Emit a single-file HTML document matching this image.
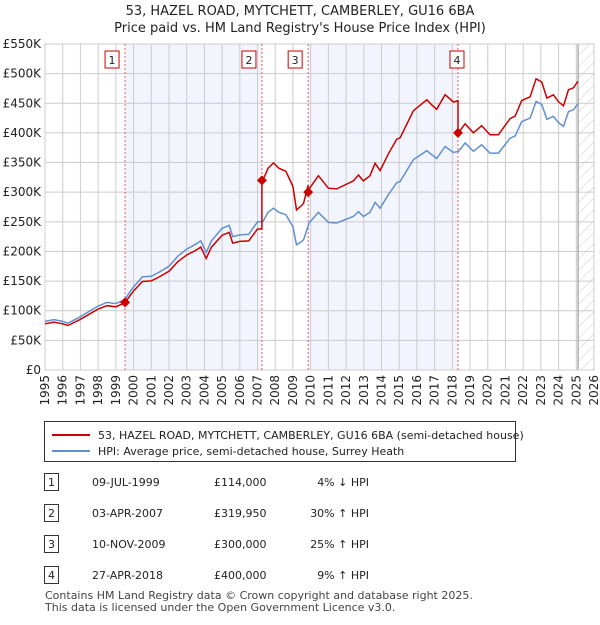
<!DOCTYPE html>
<html><head><meta charset="utf-8"><style>
body{margin:0;background:#fff;font-family:"Liberation Sans","DejaVu Sans",sans-serif;}
svg text{font-family:"DejaVu Sans","Liberation Sans",sans-serif;}
</style></head><body>
<svg id="c" width="600" height="620" xmlns="http://www.w3.org/2000/svg">
<defs><pattern id="hatch" width="8" height="8" patternUnits="userSpaceOnUse" patternTransform="rotate(45)"><line x1="0" y1="0" x2="0" y2="8" stroke="#ccc" stroke-width="1"/></pattern></defs>
<text x="300" y="15" text-anchor="middle" font-size="13" fill="#222">53, HAZEL ROAD, MYTCHETT, CAMBERLEY, GU16 6BA</text>
<text x="300" y="32" text-anchor="middle" font-size="13" fill="#222">Price paid vs. HM Land Registry's House Price Index (HPI)</text>
<g id="plot"></g>
<g>
<rect x="44.5" y="421.5" width="471" height="40" fill="#fff" stroke="#333"/>
<line x1="52" y1="435" x2="90" y2="435" stroke="#cc0000" stroke-width="2"/>
<text x="98" y="439" font-size="11" fill="#222">53, HAZEL ROAD, MYTCHETT, CAMBERLEY, GU16 6BA (semi-detached house)</text>
<line x1="52" y1="451" x2="90" y2="451" stroke="#6090d0" stroke-width="2"/>
<text x="98" y="455" font-size="11" fill="#222">HPI: Average price, semi-detached house, Surrey Heath</text>
</g>
<g id="table" font-size="11" fill="#222"></g>
<text x="45" y="599" font-size="11" fill="#444">Contains HM Land Registry data © Crown copyright and database right 2025.</text>
<text x="45" y="611" font-size="11" fill="#444">This data is licensed under the Open Government Licence v3.0.</text>
</svg>
<script>
const hpiYears=[1995,1995.5,1996,1996.3,1997,1998,1998.5,1999,1999.5,2000,2000.5,2001,2001.5,2002,2002.5,2003,2003.5,2003.8,2004.1,2004.4,2005,2005.4,2005.6,2006,2006.5,2007,2007.3,2007.6,2007.9,2008.2,2008.6,2009,2009.2,2009.5,2009.6,2009.91,2010.44,2011,2011.47,2012.41,2012.7,2012.98,2013.35,2013.64,2013.92,2014.39,2014.86,2015.05,2015.8,2016.56,2016.84,2017.12,2017.59,2018.06,2018.35,2018.72,2019.19,2019.66,2020.13,2020.6,2021.26,2021.55,2021.92,2022.39,2022.73,2023.05,2023.34,2023.71,2024,2024.28,2024.56,2024.84,2025.09];
const hpiValues=[82,85,82,79,90,108,114,112,119,140,157,158,166,175,192,204,212,218,198,218,239,244,225,228,229,250,250,266,273,266,262,242,211,217,220,248,266,249,248,259,267,259,266,283,273,296,316,318,355,370,363,357,377,367,369,383,369,380,366,366,391,395,419,425,453,448,423,428,417,411,436,439,449];
const saleYears=[1999.52,2007.25,2009.86,2018.32];
const salePrices=[114000,319950,300000,400000];
const saleDates=["09-JUL-1999","03-APR-2007","10-NOV-2009","27-APR-2018"];
const salePriceLabels=["£114,000","£319,950","£300,000","£400,000"];
const saleHpiLabels=["4% ↓ HPI","30% ↑ HPI","25% ↑ HPI","9% ↑ HPI"];
const yTicks=[0,50,100,150,200,250,300,350,400,450,500,550];
const yTickLabels=["£0","£50K","£100K","£150K","£200K","£250K","£300K","£350K","£400K","£450K","£500K","£550K"];
const xTicks=[1995,1996,1997,1998,1999,2000,2001,2002,2003,2004,2005,2006,2007,2008,2009,2010,2011,2012,2013,2014,2015,2016,2017,2018,2019,2020,2021,2022,2023,2024,2025,2026];

const L=45,R=594,T=44,B=370;
const X=y=>L+(y-1995)/31*(R-L);
const Y=v=>B-v/550*(B-T);
const NS="http://www.w3.org/2000/svg";
const g=document.getElementById('plot');
function mk(tag,attrs,parent){const e=document.createElementNS(NS,tag);for(const k in attrs)e.setAttribute(k,attrs[k]);(parent||g).appendChild(e);return e;}
function hpiAt(t){for(let i=0;i<hpiYears.length-1;i++){if(t>=hpiYears[i]&&t<=hpiYears[i+1]){const f=(t-hpiYears[i])/(hpiYears[i+1]-hpiYears[i]);return hpiValues[i]+f*(hpiValues[i+1]-hpiValues[i]);}}return hpiValues[hpiValues.length-1];}

let r=mk('rect',{x:X(saleYears[0]),y:T,width:X(saleYears[1])-X(saleYears[0]),height:B-T,fill:'#f2f5fd'});


r=mk('rect',{x:X(saleYears[2]),y:T,width:X(saleYears[3])-X(saleYears[2]),height:B-T,fill:'#f2f5fd'});


r=mk('rect',{x:X(2025.1),y:T,width:X(2026)-X(2025.1),height:B-T,fill:'url(#hatch)'});


yTicks.forEach((v,i)=>{mk('line',{x1:L,x2:R,y1:Y(v),y2:Y(v),stroke:'#ccc'});
 const t=mk('text',{x:L-4,y:Y(v)+4,'text-anchor':'end','font-size':12,fill:'#222'});t.textContent=yTickLabels[i];
 
 });
xTicks.forEach(y=>{mk('line',{x1:X(y),x2:X(y),y1:T,y2:B,stroke:'#ccc'});
 const t=mk('text',{x:0,y:0,'text-anchor':'end','font-size':12,fill:'#222',transform:`translate(${X(y)+4},${B+5}) rotate(-90)`});t.textContent=y;
 
 });
mk('line',{x1:X(2025.1),x2:X(2025.1),y1:T,y2:B,stroke:'#888'});
mk('rect',{x:L,y:T,width:R-L,height:B-T,fill:'none',stroke:'#ccc'});
saleYears.forEach((s,i)=>{mk('line',{x1:X(s),x2:X(s),y1:T,y2:B,stroke:'#e06060','stroke-dasharray':'2,2'});
 const bx=X(s)-20+(i==3?12:0);
 const b=mk('rect',{x:bx,y:51,width:14,height:17,fill:'#fff',stroke:'#cc0000'});
 
 
 const t=mk('text',{x:bx+7,y:64,'text-anchor':'middle','font-size':11,fill:'#222'});t.textContent=i+1;});
const hp=hpiYears.map((y,i)=>X(y).toFixed(1)+','+Y(hpiValues[i]).toFixed(1)).join(' ');
const hl=mk('polyline',{points:hp,fill:'none',stroke:'#6090d0','stroke-width':1.5});


function redAt(t){let k=0;for(let i=0;i<saleYears.length;i++)if(t>=saleYears[i])k=i;return salePrices[k]/1000*hpiAt(t)/hpiAt(saleYears[k]);}
let ts=[...hpiYears];saleYears.forEach((s,i)=>{ts.push(s-0.001);ts.push(s);});ts.sort((a,b)=>a-b);
const rp=ts.map(t=>X(t).toFixed(1)+','+Y(redAt(t)).toFixed(1)).join(' ');
const rl=mk('polyline',{points:rp,fill:'none',stroke:'#cc0000','stroke-width':1.5});


saleYears.forEach((s,i)=>{const cx=X(s),cy=Y(salePrices[i]/1000);
 const d=mk('polygon',{points:`${cx},${cy-5} ${cx+5},${cy} ${cx},${cy+5} ${cx-5},${cy}`,fill:'#cc0000'});
 
 });
const tb=document.getElementById('table');
saleYears.forEach((s,i)=>{const y=483+i*31;
 mk('rect',{x:44.5,y:y-9.5,width:14,height:17,fill:'#fff',stroke:'#333'},tb);
 let t=mk('text',{x:51.5,y:y+3,'text-anchor':'middle'},tb);t.textContent=i+1;
 t=mk('text',{x:92,y:y+3},tb);t.textContent=saleDates[i];
 
 
 t=mk('text',{x:214,y:y+3},tb);t.textContent=salePriceLabels[i];
 
 
 t=mk('text',{x:369,y:y+3,'text-anchor':'end'},tb);t.textContent=saleHpiLabels[i];
 
 });
</script>
</body></html>
